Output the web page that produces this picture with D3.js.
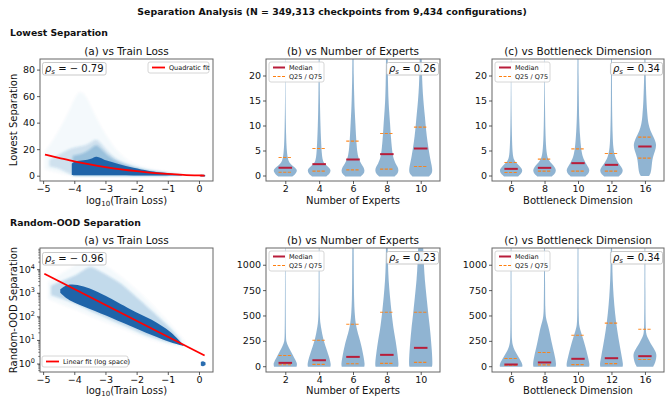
<!DOCTYPE html>
<html>
<head>
<meta charset="utf-8">
<script src="https://cdn.jsdelivr.net/npm/d3@7"></script>
<style>
  body { margin: 0; background: #fff; }
  svg text { font-family: "DejaVu Sans", sans-serif; fill: #111; }
</style>
</head>
<body>
<script>
// ---- values ----
const lossTicks = [-5, -4, -3, -2, -1, 0];
const lowTicks = [0, 20, 40, 60, 80];
const lowViolinTicks = [0, 5, 10, 15, 20];
const oodLogTicks = [1, 10, 100, 1000, 10000];
const oodViolinTicks = [0, 250, 500, 750, 1000];
const expertCats = [2, 4, 6, 8, 10];
const bottleneckCats = [6, 8, 10, 12, 16];

// lowest separation vs log10(train loss): density envelopes of the scatter cloud
const lowHaloX = [-4.95, -4.7, -4.4, -4.1, -3.85, -3.6, -3.35, -3.1, -2.8, -2.5, -2.1, -1.7, -1.3, -0.9, -0.5, -0.3];
const lowHaloTop = [18, 26, 38, 52, 66, 60, 46, 35, 24, 15, 9, 6, 4, 2.6, 1.5, 0.8];
const lowHaloBottom = [5, 3, 1.5, 0, -0.5, -0.5, -0.5, -0.5, -0.5, -0.5, -0.5, -0.4, -0.4, -0.3, -0.3, -0.2];
const lowMidX = [-4.8, -4.4, -4.1, -3.8, -3.5, -3.3, -3.1, -2.8, -2.5, -2.1, -1.7, -1.3, -0.9, -0.6];
const lowMidTop = [12, 17, 21, 22, 24, 29, 23, 15, 10.5, 7, 4.5, 3, 2, 1];
const lowMidBottom = [7, 5, 0.3, 0, 0, 0, 0, 0, 0, 0, 0, 0, 0, 0];
const lowInnerX = [-4.05, -3.8, -3.5, -3.3, -3.1, -2.8, -2.4, -2.0, -1.5, -1.0];
const lowInnerTop = [15, 16, 19, 25, 19, 12.5, 8.5, 5.5, 3.2, 1.8];
const lowInnerBottom = [0, 0, 0, 0, 0, 0, 0, 0, 0, 0];
const lowCoreX = [-4.08, -4.0, -3.7, -3.45, -3.3, -3.15, -3.0, -2.6, -2.1, -1.6, -1.3, -0.95, -0.75, -0.55];
const lowCoreTop = [9, 11, 11.5, 12.5, 15, 13.5, 11.5, 9, 5.8, 3.5, 2.6, 1.8, 1.2, 0.6];
const lowCoreBottom = [0.6, 0.3, 0.3, 0.3, 0.3, 0.3, 0.3, 0.3, 0.2, 0.2, 0.2, 0.2, 0.2, 0.2];
const lowBlobX = [0.04, 0.12, 0.2];
const lowBlobTop = [0.6, 0.8, 0.5];
const lowBlobBottom = [-0.5, -0.8, -0.5];
const lowFitX = [-4.94, -4.5, -4.0, -3.5, -3.0, -2.5, -2.0, -1.5, -1.0, -0.5, 0.0, 0.18];
const lowFitY = [15.9, 13.5, 10.8, 8.5, 6.5, 4.8, 3.4, 2.2, 1.3, 0.6, 0.2, 0.1];

// random-OOD separation vs log10(train loss)
const oodHaloX = [-4.85, -4.5, -4.1, -3.8, -3.55, -3.3, -3.0, -2.6, -2.2, -1.8, -1.4, -1.0, -0.7, -0.45];
const oodHaloTop = [2820, 5620, 11200, 22400, 31600, 25100, 14100, 6310, 2240, 790, 220, 63, 22, 8.9];
const oodHaloBottom = [560, 350, 220, 160, 110, 79, 56, 35, 22, 13, 8.9, 6.3, 5.2, 5.0];
const oodMidX = [-4.75, -4.4, -4.0, -3.7, -3.5, -3.3, -3.0, -2.7, -2.4, -2.0, -1.6, -1.2, -0.9, -0.6];
const oodMidTop = [2000, 3200, 5000, 8900, 14100, 10000, 6300, 3550, 2000, 630, 220, 71, 30, 10];
const oodMidBottom = [800, 560, 360, 240, 170, 130, 92, 58, 42, 23, 14, 9.5, 7.4, 6.5];
const oodCoreX = [-4.45, -4.3, -4.1, -3.7, -3.3, -3.0, -2.6, -2.2, -1.9, -1.5, -1.2, -0.9, -0.65, -0.5];
const oodCoreTop = [1400, 2000, 2400, 1900, 1200, 760, 390, 200, 126, 71, 40, 22, 10, 6.3];
const oodCoreBottom = [1000, 650, 440, 260, 165, 110, 65, 40, 26, 16, 11, 7.9, 6.3, 5.6];
const oodBlobX = [0.06, 0.13, 0.21];
const oodBlobTop = [1.15, 1.3, 1.1];
const oodBlobBottom = [0.82, 0.74, 0.86];
const oodFitX = [-4.96, 0.18];
const oodFitY = [6450, 2.2];

// violin summaries
const lowMedExperts = [1.55, 2.27, 3.2, 4.27, 5.4];
const lowQ25Experts = [0.65, 0.87, 1.13, 1.27, 1.8];
const lowQ75Experts = [3.6, 5.4, 6.87, 8.4, 9.67];
const lowMedBottleneck = [1.33, 1.53, 2.47, 2.13, 5.8];
const lowQ25Bottleneck = [0.6, 0.87, 0.87, 0.87, 3.47];
const lowQ75Bottleneck = [2.6, 3.27, 5.33, 4.4, 7.67];
const oodMedExperts = [33, 59, 92, 112, 181];
const oodQ25Experts = [15, 18, 24, 28, 38];
const oodQ75Experts = [105, 256, 413, 532, 532];
const oodMedBottleneck = [17, 37, 73, 79, 99];
const oodQ25Bottleneck = [10, 13, 16, 26, 66];
const oodQ75Bottleneck = [76, 135, 305, 425, 365];

// violin outlines: [value, relative half width]
const lowExpertShapes = [
  [[-0.2, 0.6], [0.3, 0.85], [0.9, 1.0], [1.3, 0.95], [1.8, 0.7], [2.3, 0.42], [3, 0.25], [4, 0.17], [5, 0.13], [6, 0.1], [8, 0.07], [10, 0.05], [13, 0.03], [16, 0.02], [20, 0.012], [24, 0.008]],
  [[-0.2, 0.6], [0.3, 0.88], [1.0, 1.0], [1.6, 0.85], [2.3, 0.45], [3, 0.3], [4.3, 0.22], [7, 0.16], [10, 0.11], [13, 0.08], [16, 0.06], [20, 0.045], [24, 0.035]],
  [[-0.2, 0.65], [0.3, 0.9], [1.0, 1.0], [1.7, 0.88], [2.3, 0.7], [3.6, 0.42], [5.5, 0.32], [8, 0.25], [10.5, 0.2], [13, 0.14], [16, 0.1], [20, 0.06], [24, 0.05]],
  [[-0.2, 0.65], [0.3, 0.9], [1.0, 1.0], [1.7, 0.92], [2.3, 0.75], [3.6, 0.52], [5.5, 0.42], [8, 0.33], [10.5, 0.27], [13, 0.19], [15, 0.14], [18, 0.1], [21, 0.08], [24, 0.07]],
  [[-0.2, 0.7], [0.3, 0.92], [1.0, 1.0], [2.3, 0.9], [3.6, 0.78], [5.5, 0.65], [8, 0.5], [10, 0.42], [12, 0.35], [15, 0.22], [18, 0.14], [21, 0.1], [24, 0.08]]
];
const lowBottleneckShapes = [
  [[-0.2, 0.6], [0.3, 0.85], [1.0, 1.0], [1.6, 0.85], [2.3, 0.55], [3, 0.25], [4.3, 0.12], [8, 0.07], [12, 0.04], [16, 0.025], [20, 0.015], [24, 0.01]],
  [[-0.2, 0.62], [0.3, 0.88], [1.0, 1.0], [1.6, 0.9], [2.3, 0.65], [3, 0.35], [4.3, 0.16], [8, 0.08], [12, 0.05], [16, 0.03], [20, 0.02], [24, 0.015]],
  [[-0.2, 0.62], [0.3, 0.88], [1.0, 1.0], [1.6, 0.9], [2.3, 0.7], [3.6, 0.4], [5.5, 0.25], [8, 0.17], [11, 0.1], [15, 0.07], [20, 0.05], [24, 0.04]],
  [[-0.2, 0.62], [0.3, 0.88], [1.0, 1.0], [1.6, 0.88], [2.3, 0.65], [3.6, 0.3], [5.5, 0.15], [8, 0.1], [12, 0.06], [16, 0.045], [20, 0.04], [24, 0.035]],
  [[-0.1, 0.35], [0.5, 0.5], [1.5, 0.56], [2.5, 0.6], [3.6, 0.66], [5, 0.88], [6.2, 1.0], [7.5, 0.78], [9, 0.45], [10.3, 0.3], [11.7, 0.22], [15, 0.12], [20, 0.06], [24, 0.04]]
];
const oodExpertShapes = [
  [[-5, 0.95], [20, 1.0], [40, 0.95], [100, 0.68], [150, 0.45], [200, 0.22], [240, 0.08], [300, 0.05], [500, 0.035], [800, 0.025], [1200, 0.018]],
  [[-5, 0.95], [20, 1.0], [92, 0.85], [208, 0.5], [290, 0.3], [356, 0.2], [422, 0.1], [500, 0.05], [800, 0.035], [1200, 0.03]],
  [[-5, 0.95], [20, 1.0], [92, 0.9], [208, 0.7], [290, 0.5], [356, 0.34], [422, 0.22], [521, 0.14], [650, 0.09], [851, 0.07], [1200, 0.055]],
  [[-5, 0.95], [20, 1.0], [120, 0.9], [250, 0.75], [356, 0.57], [521, 0.4], [686, 0.26], [851, 0.14], [1016, 0.09], [1200, 0.07]],
  [[-5, 0.95], [20, 1.0], [150, 0.95], [356, 0.8], [521, 0.63], [686, 0.49], [851, 0.34], [1016, 0.26], [1200, 0.2]]
];
const oodBottleneckShapes = [
  [[-5, 0.95], [20, 1.0], [92, 0.63], [158, 0.28], [208, 0.14], [250, 0.07], [400, 0.05], [800, 0.035], [1200, 0.03]],
  [[-5, 0.95], [20, 1.0], [92, 0.9], [208, 0.65], [356, 0.4], [422, 0.25], [470, 0.12], [550, 0.06], [800, 0.045], [1200, 0.035]],
  [[-5, 0.95], [20, 1.0], [92, 0.85], [208, 0.6], [290, 0.38], [356, 0.2], [400, 0.1], [480, 0.06], [800, 0.045], [1200, 0.035]],
  [[-5, 0.95], [20, 1.0], [92, 0.88], [208, 0.7], [356, 0.48], [521, 0.3], [686, 0.18], [851, 0.1], [1016, 0.07], [1200, 0.05]],
  [[-5, 0.7], [40, 0.9], [100, 1.0], [140, 0.95], [208, 0.55], [290, 0.2], [320, 0.1], [400, 0.06], [700, 0.04], [1200, 0.03]]
];

// ---- layout ----
const svg = d3.select('body').append('svg').attr('width', 665).attr('height', 398);
const cols = [[40, 213], [266, 440], [492, 664]];
const rows = [[59, 181], [248, 372]];
const blue = '#1f77b4';
const dense = '#1f64a9';
const medColor = '#b81d3a';
const qColor = '#ff7f0e';

const defs = svg.append('defs');
defs.append('filter').attr('id', 'soft').append('feGaussianBlur').attr('stdDeviation', 0.8);

// headings
svg.append('text').attr('x', 332).attr('y', 15).attr('text-anchor', 'middle')
  .attr('font-size', 9.4).attr('font-weight', 'bold')
  .text('Separation Analysis  (N = 349,313 checkpoints from 9,434 configurations)');
svg.append('text').attr('x', 10).attr('y', 36).attr('font-size', 9.3).attr('font-weight', 'bold').text('Lowest Separation');
svg.append('text').attr('x', 10).attr('y', 226).attr('font-size', 9.3).attr('font-weight', 'bold').text('Random-OOD Separation');

let clipId = 0;
function panel(col, row, title) {
  const [x0, x1] = cols[col];
  const [y0, y1] = rows[row];
  const g = svg.append('g');
  const id = 'clip' + (clipId++);
  defs.append('clipPath').attr('id', id).append('rect')
    .attr('x', x0).attr('y', y0).attr('width', x1 - x0).attr('height', y1 - y0);
  const plot = g.append('g').attr('clip-path', `url(#${id})`);
  g.append('text').attr('x', (x0 + x1) / 2).attr('y', y0 - 4).attr('text-anchor', 'middle')
    .attr('font-size', 10.5).text(title);
  return { g, plot, x0, x1, y0, y1 };
}

function styleAxis(sel) {
  sel.select('.domain').remove();
  sel.selectAll('.tick line').attr('stroke', '#333').attr('stroke-width', 0.8);
  sel.selectAll('.tick text').attr('font-size', 9.5).attr('fill', '#111')
    .attr('font-family', '"DejaVu Sans", sans-serif');
}

function frame(p) {
  p.g.append('rect').attr('x', p.x0).attr('y', p.y0)
    .attr('width', p.x1 - p.x0).attr('height', p.y1 - p.y0)
    .attr('fill', 'none').attr('stroke', '#666').attr('stroke-width', 1);
}

function fmtMinus(v) { return String(v).replace('-', '\u2212'); }

function xLabelLog(p, yPos) {
  const t = p.g.append('text').attr('x', (p.x0 + p.x1) / 2).attr('y', yPos)
    .attr('text-anchor', 'middle').attr('font-size', 10);
  t.append('tspan').text('log');
  t.append('tspan').attr('font-size', 7).attr('dy', 2).text('10');
  t.append('tspan').attr('dy', -2).text('(Train Loss)');
}

function yLabel(text, cy) {
  svg.append('text').attr('transform', `translate(17,${cy}) rotate(-90)`)
    .attr('text-anchor', 'middle').attr('font-size', 10).text(text);
}

function rhoBox(p, x, y, value, anchorRight) {
  const t = p.g.append('text').attr('y', y).attr('font-size', 10);
  t.append('tspan').attr('font-style', 'italic').text('\u03c1');
  t.append('tspan').attr('font-style', 'italic').attr('font-size', 7).attr('dy', 2).text('s');
  t.append('tspan').attr('dy', -2).text(' = ' + value);
  const w = t.node().getComputedTextLength();
  const tx = anchorRight ? x - w : x;
  t.attr('x', tx);
  p.g.insert('rect', () => t.node()).attr('x', tx - 2.5).attr('y', y - 9.5)
    .attr('width', w + 5).attr('height', 12.5).attr('rx', 2)
    .attr('fill', '#fff').attr('fill-opacity', 0.85).attr('stroke', '#bbb').attr('stroke-width', 0.8);
}

function violinLegend(p) {
  const lx = p.x0 + 3, ly = p.y0 + 3;
  p.g.append('rect').attr('x', lx).attr('y', ly).attr('width', 55).attr('height', 20).attr('rx', 2)
    .attr('fill', '#fff').attr('fill-opacity', 0.85).attr('stroke', '#ccc').attr('stroke-width', 0.8);
  p.g.append('line').attr('x1', lx + 4).attr('x2', lx + 16).attr('y1', ly + 5.5).attr('y2', ly + 5.5)
    .attr('stroke', medColor).attr('stroke-width', 2);
  p.g.append('line').attr('x1', lx + 4).attr('x2', lx + 16).attr('y1', ly + 14.5).attr('y2', ly + 14.5)
    .attr('stroke', qColor).attr('stroke-width', 1).attr('stroke-dasharray', '3,1.5');
  p.g.append('text').attr('x', lx + 20).attr('y', ly + 8).attr('font-size', 6.5).text('Median');
  p.g.append('text').attr('x', lx + 20).attr('y', ly + 17).attr('font-size', 6.5).text('Q25 / Q75');
}

function cloud(p, x, y, xs, tops, bottoms, color, opacity, blur) {
  const data = xs.map((v, i) => ({ x: v, t: tops[i], b: bottoms[i] }));
  const area = d3.area().curve(d3.curveBasis)
    .x(d => x(d.x)).y0(d => y(d.b)).y1(d => y(d.t));
  const path = p.plot.append('path').attr('d', area(data))
    .attr('fill', color).attr('fill-opacity', opacity);
  if (blur) path.attr('filter', 'url(#soft)');
}

// ---- scatter panels ----
function scatterPanel(row, yScale, layers, blob, fitX, fitY, yTicks, logAxis) {
  const p = panel(0, row, '(a) vs Train Loss');
  const x = d3.scaleLinear().domain([-5.1, 0.45]).range([p.x0, p.x1]);
  const y = yScale.range([p.y1, p.y0]);
  layers.forEach(l => cloud(p, x, y, l[0], l[1], l[2], l[3], l[4], l[5]));
  cloud(p, x, y, blob[0], blob[1], blob[2], blob[3], 1, false);
  const fit = fitX.map((v, i) => [v, fitY[i]]);
  p.plot.append('path').attr('d', d3.line().x(d => x(d[0])).y(d => y(d[1])).curve(d3.curveMonotoneX)(fit))
    .attr('fill', 'none').attr('stroke', '#f00').attr('stroke-width', 1.8);
  frame(p);
  p.g.append('g').attr('transform', `translate(0,${p.y1})`)
    .call(d3.axisBottom(x).tickValues(lossTicks).tickSize(3).tickPadding(1.5).tickFormat(fmtMinus))
    .call(styleAxis);
  const ya = p.g.append('g').attr('transform', `translate(${p.x0},0)`)
    .call(d3.axisLeft(y).tickValues(yTicks).tickSize(3).tickPadding(2).tickFormat(logAxis ? () => '' : d => d))
    .call(styleAxis);
  if (logAxis) {
    ya.selectAll('.tick text').each(function (d) {
      const t = d3.select(this);
      t.append('tspan').text('10');
      t.append('tspan').attr('font-size', 6.5).attr('dy', -4).text(Math.round(Math.log10(d)));
    });
    // minor ticks
    const minor = [];
    for (let e = -1; e <= 4; e++) for (let m = 2; m <= 9; m++) minor.push(m * Math.pow(10, e));
    ya.selectAll('.minor').data(minor.filter(v => v > y.domain()[0] && v < y.domain()[1]))
      .enter().append('line').attr('x1', -1.8).attr('x2', 0)
      .attr('y1', d => y(d)).attr('y2', d => y(d)).attr('stroke', '#333').attr('stroke-width', 0.6);
  }
  return { p, x, y };
}

const lowA = scatterPanel(0, d3.scaleLinear().domain([-4, 88]),
  [[lowHaloX, lowHaloTop, lowHaloBottom, blue, 0.045, true],
   [lowMidX, lowMidTop, lowMidBottom, blue, 0.18, true],
   [lowInnerX, lowInnerTop, lowInnerBottom, blue, 0.3, true],
   [lowCoreX, lowCoreTop, lowCoreBottom, dense, 1, false]],
  [lowBlobX, lowBlobTop, lowBlobBottom, dense], lowFitX, lowFitY, lowTicks, false);
// legend: quadratic fit
(function () {
  const g = lowA.p.g, lx = 148, ly = 62;
  g.append('rect').attr('x', lx).attr('y', ly).attr('width', 61).attr('height', 11).attr('rx', 2)
    .attr('fill', '#fff').attr('fill-opacity', 0.85).attr('stroke', '#ccc').attr('stroke-width', 0.8);
  g.append('line').attr('x1', lx + 4).attr('x2', lx + 17).attr('y1', ly + 5.5).attr('y2', ly + 5.5)
    .attr('stroke', '#f00').attr('stroke-width', 1.8);
  g.append('text').attr('x', lx + 21).attr('y', ly + 8).attr('font-size', 6.5).text('Quadratic fit');
})();
rhoBox(lowA.p, 45, 72, '\u2212 0.79', false);
xLabelLog(lowA.p, 204);
yLabel('Lowest Separation', 120);

const oodA = scatterPanel(1, d3.scaleLog().domain([Math.pow(10, -0.36), Math.pow(10, 4.9)]),
  [[oodHaloX, oodHaloTop, oodHaloBottom, blue, 0.045, true],
   [oodMidX, oodMidTop, oodMidBottom, blue, 0.24, true],
   [oodCoreX, oodCoreTop, oodCoreBottom, dense, 1, false]],
  [oodBlobX, oodBlobTop, oodBlobBottom, '#2a6db0'], oodFitX, oodFitY, oodLogTicks, true);
(function () {
  const g = oodA.p.g, lx = 42, ly = 356;
  g.append('rect').attr('x', lx).attr('y', ly).attr('width', 86).attr('height', 11).attr('rx', 2)
    .attr('fill', '#fff').attr('fill-opacity', 0.85).attr('stroke', '#ccc').attr('stroke-width', 0.8);
  g.append('line').attr('x1', lx + 4).attr('x2', lx + 17).attr('y1', ly + 5.5).attr('y2', ly + 5.5)
    .attr('stroke', '#f00').attr('stroke-width', 1.8);
  g.append('text').attr('x', lx + 21).attr('y', ly + 8).attr('font-size', 6.5).text('Linear fit (log space)');
})();
rhoBox(oodA.p, 45, 262, '\u2212 0.96', false);
xLabelLog(oodA.p, 394);
yLabel('Random-OOD Separation', 310);

// ---- violin panels ----
function violinPanel(col, row, title, cats, shapes, med, q25, q75, yDomain, yTicks, rho, xLabel, labelY) {
  const p = panel(col, row, title);
  const x = d3.scaleLinear().domain([-0.57, 4.57]).range([p.x0, p.x1]);
  const y = d3.scaleLinear().domain(yDomain).range([p.y1, p.y0]);
  const hw = x(0.35) - x(0);
  shapes.forEach((shape, i) => {
    const cx = x(i);
    const area = d3.area().curve(d3.curveBasis)
      .y(d => y(d[0])).x0(d => cx - d[1] * hw).x1(d => cx + d[1] * hw);
    p.plot.append('path').attr('d', area(shape))
      .attr('fill', 'steelblue').attr('fill-opacity', 0.6);
  });
  const hl = x(0.2) - x(0);
  cats.forEach((c, i) => {
    const cx = x(i);
    [q25[i], q75[i]].forEach(v => {
      p.plot.append('line').attr('x1', cx - hl).attr('x2', cx + hl).attr('y1', y(v)).attr('y2', y(v))
        .attr('stroke', qColor).attr('stroke-width', 1.1).attr('stroke-dasharray', '3.2,1.4').attr('stroke-opacity', 0.9);
    });
    p.plot.append('line').attr('x1', cx - hl).attr('x2', cx + hl).attr('y1', y(med[i])).attr('y2', y(med[i]))
      .attr('stroke', medColor).attr('stroke-width', 2);
  });
  frame(p);
  p.g.append('g').attr('transform', `translate(0,${p.y1})`)
    .call(d3.axisBottom(x).tickValues(d3.range(cats.length)).tickSize(3).tickPadding(1.5).tickFormat(i => cats[i]))
    .call(styleAxis);
  p.g.append('g').attr('transform', `translate(${p.x0},0)`)
    .call(d3.axisLeft(y).tickValues(yTicks).tickSize(3).tickPadding(2).tickFormat(d => d))
    .call(styleAxis);
  violinLegend(p);
  rhoBox(p, p.x1 - 4, p.y0 + 13, rho, true);
  if (xLabel) p.g.append('text').attr('x', (p.x0 + p.x1) / 2).attr('y', labelY)
    .attr('text-anchor', 'middle').attr('font-size', 10).text(xLabel);
}

violinPanel(1, 0, '(b) vs Number of Experts', expertCats, lowExpertShapes,
  lowMedExperts, lowQ25Experts, lowQ75Experts, [-1.1, 23.3], lowViolinTicks, '0.26', 'Number of Experts', 204);
violinPanel(2, 0, '(c) vs Bottleneck Dimension', bottleneckCats, lowBottleneckShapes,
  lowMedBottleneck, lowQ25Bottleneck, lowQ75Bottleneck, [-1.1, 23.3], lowViolinTicks, '0.34', 'Bottleneck Dimension', 204);
violinPanel(1, 1, '(b) vs Number of Experts', expertCats, oodExpertShapes,
  oodMedExperts, oodQ25Experts, oodQ75Experts, [-57, 1165], oodViolinTicks, '0.23', 'Number of Experts', 394);
violinPanel(2, 1, '(c) vs Bottleneck Dimension', bottleneckCats, oodBottleneckShapes,
  oodMedBottleneck, oodQ25Bottleneck, oodQ75Bottleneck, [-57, 1165], oodViolinTicks, '0.34', 'Bottleneck Dimension', 394);
</script>
</body>
</html>
